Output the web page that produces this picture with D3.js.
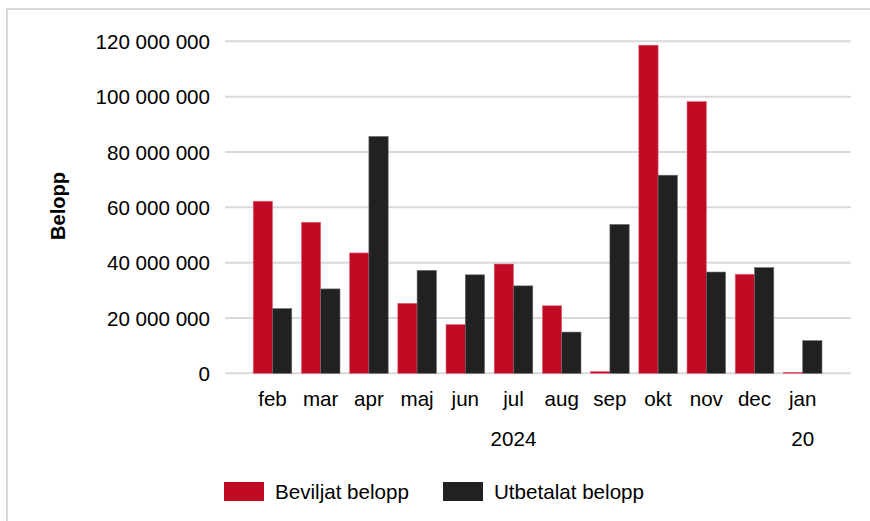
<!DOCTYPE html>
<html>
<head>
<meta charset="utf-8">
<script src="https://cdn.jsdelivr.net/npm/d3@7"></script>
<style>
  html, body { margin: 0; padding: 0; background: #fff; }
  svg { display: block; font-family: "Liberation Sans", Arial, sans-serif; }
</style>
</head>
<body>
<svg id="chart" width="870" height="521"></svg>
<script>
const months = ["feb", "mar", "apr", "maj", "jun", "jul", "aug", "sep", "okt", "nov", "dec", "jan"];
const beviljat = [62.2, 54.6, 43.5, 25.3, 17.6, 39.5, 24.4, 0.6, 118.6, 98.2, 35.8, 0.35].map(v => v * 1e6);
const utbetalat = [23.4, 30.5, 85.6, 37.2, 35.6, 31.6, 14.9, 53.8, 71.6, 36.6, 38.2, 11.8].map(v => v * 1e6);
const yTicks = [0, 20e6, 40e6, 60e6, 80e6, 100e6, 120e6];
const seriesNames = ["Beviljat belopp", "Utbetalat belopp"];
const yearLabels = [{ label: "2024", from: "feb", to: "dec" }, { label: "20", from: "jan", to: "jan" }];
const yTitle = "Belopp";

const colors = ["#c10b25", "#212121"];
const strokes = ["#e0677a", "#6a6a6a"];
const FS = 20.6;

const svg = d3.select("#chart");

// frame
svg.append("path")
  .attr("d", "M7,530 L7,9 L880,9")
  .attr("fill", "none").attr("stroke", "#d9d9d9").attr("stroke-width", 2);

const x = d3.scaleBand().domain(months).range([248.4, 826.8]).paddingInner(0.2).paddingOuter(0.1);
const xs = d3.scaleBand().domain([0, 1]).range([0, x.bandwidth()]);
const y = d3.scaleLinear().domain([0, 120e6]).range([373.3, 41.3]);

const fmt = v => d3.format(",")(v).replace(/,/g, " ");

// gridlines
svg.append("g").selectAll("line").data(yTicks).join("line")
  .attr("x1", 225).attr("x2", 851)
  .attr("y1", d => y(d)).attr("y2", d => y(d))
  .attr("stroke", "#d9d9d9").attr("stroke-width", 2);

// y axis labels
const yAxis = d3.axisLeft(y).tickValues(yTicks).tickFormat(fmt).tickSize(0).tickPadding(0);
const yg = svg.append("g").attr("transform", "translate(210,0)").call(yAxis);
yg.select(".domain").remove();
yg.selectAll("text").attr("font-size", FS).attr("fill", "#000")
  .attr("font-family", "'Liberation Sans', Arial, sans-serif").attr("dy", "0.35em");

// y title
svg.append("text")
  .attr("transform", "translate(65,206) rotate(-90)")
  .attr("text-anchor", "middle")
  .attr("font-size", 20).attr("font-weight", "bold").attr("fill", "#000")
  .text(yTitle);

// bars
const series = [beviljat, utbetalat];
series.forEach((vals, si) => {
  svg.append("g").selectAll("rect").data(months).join("rect")
    .attr("x", (m) => x(m) + xs(si))
    .attr("width", xs.bandwidth())
    .attr("y", (m, i) => y(vals[i]))
    .attr("height", (m, i) => y(0) - y(vals[i]))
    .attr("fill", colors[si])
    .attr("stroke", strokes[si]).attr("stroke-width", 0.6);
});

// x axis labels
const xAxis = d3.axisBottom(x).tickSize(0).tickPadding(0);
const xg = svg.append("g").attr("transform", "translate(0,406)").call(xAxis);
xg.select(".domain").remove();
xg.selectAll("text").attr("font-size", FS).attr("fill", "#000")
  .attr("font-family", "'Liberation Sans', Arial, sans-serif").attr("dy", 0);

// year labels
svg.append("g").selectAll("text").data(yearLabels).join("text")
  .attr("x", d => (x(d.from) + x(d.to) + x.bandwidth()) / 2)
  .attr("y", 445.5)
  .attr("text-anchor", "middle")
  .attr("font-size", FS).attr("fill", "#000")
  .text(d => d.label);

// legend
const legendX = [224, 443];
const lg = svg.append("g");
seriesNames.forEach((name, i) => {
  lg.append("rect").attr("x", legendX[i]).attr("y", 482).attr("width", 40).attr("height", 19)
    .attr("fill", colors[i]);
  lg.append("text").attr("x", legendX[i] + 51).attr("y", 498.5)
    .attr("font-size", FS).attr("fill", "#000").text(name);
});
</script>
</body>
</html>
